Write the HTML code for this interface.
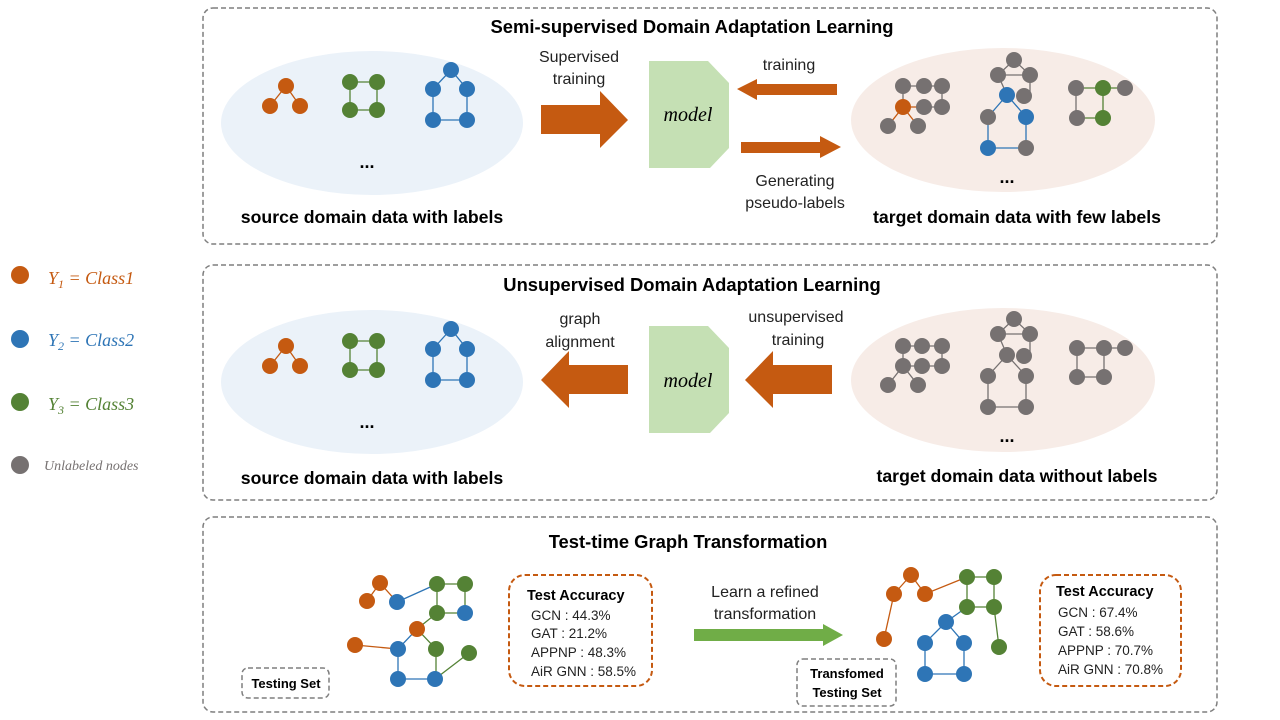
<!DOCTYPE html>
<html><head><meta charset="utf-8"><style>
html,body{margin:0;padding:0;background:#fff;}
svg{display:block;font-family:"Liberation Sans",sans-serif;}
.t{font-weight:bold;font-size:18.4px;text-anchor:middle;fill:#000;}
.c{font-weight:bold;font-size:17.7px;text-anchor:middle;fill:#000;}
.l{font-size:16px;text-anchor:middle;fill:#222;}
.s{font-size:13.5px;fill:#222;}
.m{font-family:"Liberation Serif",serif;font-style:italic;font-size:20px;text-anchor:middle;}
.o circle{fill:#C55A11}.b circle{fill:#2E75B6}.g circle{fill:#548235}.y circle{fill:#767171}
</style></head><body>
<svg width="1280" height="720" viewBox="0 0 1280 720">
<g fill="none" stroke="#7f7f7f" stroke-width="1.5" stroke-dasharray="5,3">
<rect x="203" y="8" width="1014" height="236" rx="10"/>
<rect x="203" y="265" width="1014" height="235" rx="10"/>
<rect x="203" y="517" width="1014" height="195" rx="10"/>
<rect x="242" y="668" width="87" height="30" rx="6"/>
<rect x="797" y="659" width="99" height="47" rx="6"/>
</g>
<g fill="none" stroke="#C55A11" stroke-width="2" stroke-dasharray="5,3">
<rect x="509" y="575" width="143" height="111" rx="16"/>
<rect x="1040" y="575" width="141" height="111" rx="16"/>
</g>
<text class="t" x="692" y="33">Semi-supervised  Domain  Adaptation  Learning</text>
<text class="t" x="692" y="291">Unsupervised  Domain  Adaptation  Learning</text>
<text class="t" x="688" y="548">Test-time  Graph  Transformation</text>

<ellipse cx="372" cy="123" rx="151" ry="72" fill="#EBF2F9"/>
<ellipse cx="1003" cy="120" rx="152" ry="72" fill="#F7ECE7"/>
<ellipse cx="372" cy="382" rx="151" ry="72" fill="#EBF2F9"/>
<ellipse cx="1003" cy="380" rx="152" ry="72" fill="#F7ECE7"/>

<text class="c" x="372" y="223">source domain data with labels</text>
<text class="c" x="1017" y="223">target domain data with few labels</text>
<text class="c" x="372" y="484">source domain data with labels</text>
<text class="c" x="1017" y="482">target domain data without labels</text>

<polygon points="649,61 708,61 729,83 729,148 710,168 649,168" fill="#C5E0B4"/>
<polygon points="649,326 708,326 729,348 729,413 710,433 649,433" fill="#C5E0B4"/>
<text class="m" x="688" y="121">model</text>
<text class="m" x="688" y="387">model</text>

<g fill="#C55A11">
<polygon points="541,105 600,105 600,91 628,120 600,148 600,134 541,134"/>
<polygon points="837,84 757,84 757,79 737,89 757,100 757,95 837,95"/>
<polygon points="741,142 820,142 820,136 841,147 820,158 820,153 741,153"/>
<polygon points="832,365 773,365 773,351 745,380 773,408 773,394 832,394"/>
<polygon points="628,365 569,365 569,351 541,380 569,408 569,394 628,394"/>
</g>
<polygon points="694,629 823,629 823,624 843,635 823,646 823,641 694,641" fill="#70AD47"/>

<text class="l" x="579" y="62">Supervised</text>
<text class="l" x="579" y="84">training</text>
<text class="l" x="789" y="70">training</text>
<text class="l" x="795" y="186">Generating</text>
<text class="l" x="795" y="208">pseudo-labels</text>
<text class="l" x="580" y="324">graph</text>
<text class="l" x="580" y="347">alignment</text>
<text class="l" x="796" y="322">unsupervised</text>
<text class="l" x="798" y="345">training</text>
<text class="l" x="765" y="597">Learn a refined</text>
<text class="l" x="765" y="619">transformation</text>

<g font-weight="bold" font-size="18" text-anchor="middle"><text x="367" y="168">...</text><text x="1007" y="183">...</text><text x="367" y="428">...</text><text x="1007" y="442">...</text></g>

<g stroke-width="1.3" fill="none">
<path stroke="#C55A11" d="M286,86L270,106M286,86L300,106"/>
<path stroke="#548235" d="M350,82H377V110H350Z"/>
<path stroke="#2E75B6" d="M451,70L433,89L433,120H467V89Z"/>
<path stroke="#C55A11" d="M286,346L270,366M286,346L300,366"/>
<path stroke="#548235" d="M350,341H377V370H350Z"/>
<path stroke="#2E75B6" d="M451,329L433,349L433,380H467V349Z"/>
<path stroke="#767171" d="M903,86H942V107H924M903,86V107"/>
<path stroke="#C55A11" d="M903,107L888,126M903,107L918,126M903,107H924"/>
<path stroke="#767171" d="M1014,60L998,75L1007,95M1014,60L1030,75L1030,96M998,75H1030"/>
<path stroke="#2E75B6" d="M1007,95L988,117V148H1026V117L1007,95"/>
<path stroke="#767171" d="M1076,88V118"/>
<path stroke="#548235" d="M1076,88H1125M1103,88V118H1077"/>
<path stroke="#767171" d="M903,346H942V366H903V346M903,366L888,385M903,366L918,385M1014,319L998,334L1007,355M1014,319L1030,334L1030,356M998,334H1030M1007,355L988,376V407H1026V376L1007,355M1077,348H1125M1077,348V377H1104V348"/>
<path stroke="#C55A11" d="M380,583L367,601M380,583L397,602M355,645L398,649"/>
<path stroke="#2E75B6" d="M397,602L437,584M398,649V679H435M417,629L398,649"/>
<path stroke="#548235" d="M437,584H465V613H437V584M437,613L417,629M417,629L436,649V679M435,679L469,653"/>
<path stroke="#C55A11" d="M911,575L894,594L884,639M911,575L925,594L967,577"/>
<path stroke="#548235" d="M967,577H994V607H967V577M994,607L999,647"/>
<path stroke="#2E75B6" d="M967,607L946,622L925,643V674H964V643L946,622"/>
</g>

<g class="o"><circle cx="286" cy="86" r="8"/><circle cx="270" cy="106" r="8"/><circle cx="300" cy="106" r="8"/>
<circle cx="286" cy="346" r="8"/><circle cx="270" cy="366" r="8"/><circle cx="300" cy="366" r="8"/>
<circle cx="903" cy="107" r="8"/>
<circle cx="380" cy="583" r="8"/><circle cx="367" cy="601" r="8"/><circle cx="417" cy="629" r="8"/><circle cx="355" cy="645" r="8"/>
<circle cx="911" cy="575" r="8"/><circle cx="894" cy="594" r="8"/><circle cx="925" cy="594" r="8"/><circle cx="884" cy="639" r="8"/>
<circle cx="20" cy="275" r="9"/></g>
<g class="g"><circle cx="350" cy="82" r="8"/><circle cx="377" cy="82" r="8"/><circle cx="350" cy="110" r="8"/><circle cx="377" cy="110" r="8"/>
<circle cx="350" cy="341" r="8"/><circle cx="377" cy="341" r="8"/><circle cx="350" cy="370" r="8"/><circle cx="377" cy="370" r="8"/>
<circle cx="1103" cy="88" r="8"/><circle cx="1103" cy="118" r="8"/>
<circle cx="437" cy="584" r="8"/><circle cx="465" cy="584" r="8"/><circle cx="437" cy="613" r="8"/><circle cx="436" cy="649" r="8"/><circle cx="469" cy="653" r="8"/>
<circle cx="967" cy="577" r="8"/><circle cx="994" cy="577" r="8"/><circle cx="967" cy="607" r="8"/><circle cx="994" cy="607" r="8"/><circle cx="999" cy="647" r="8"/>
<circle cx="20" cy="402" r="9"/></g>
<g class="b"><circle cx="451" cy="70" r="8"/><circle cx="433" cy="89" r="8"/><circle cx="467" cy="89" r="8"/><circle cx="433" cy="120" r="8"/><circle cx="467" cy="120" r="8"/>
<circle cx="451" cy="329" r="8"/><circle cx="433" cy="349" r="8"/><circle cx="467" cy="349" r="8"/><circle cx="433" cy="380" r="8"/><circle cx="467" cy="380" r="8"/>
<circle cx="1007" cy="95" r="8"/><circle cx="1026" cy="117" r="8"/><circle cx="988" cy="148" r="8"/>
<circle cx="397" cy="602" r="8"/><circle cx="465" cy="613" r="8"/><circle cx="398" cy="649" r="8"/><circle cx="398" cy="679" r="8"/><circle cx="435" cy="679" r="8"/>
<circle cx="946" cy="622" r="8"/><circle cx="925" cy="643" r="8"/><circle cx="964" cy="643" r="8"/><circle cx="925" cy="674" r="8"/><circle cx="964" cy="674" r="8"/>
<circle cx="20" cy="339" r="9"/></g>
<g class="y"><circle cx="903" cy="86" r="8"/><circle cx="924" cy="86" r="8"/><circle cx="942" cy="86" r="8"/><circle cx="924" cy="107" r="8"/><circle cx="942" cy="107" r="8"/><circle cx="888" cy="126" r="8"/><circle cx="918" cy="126" r="8"/>
<circle cx="1014" cy="60" r="8"/><circle cx="998" cy="75" r="8"/><circle cx="1030" cy="75" r="8"/><circle cx="1024" cy="96" r="8"/><circle cx="988" cy="117" r="8"/><circle cx="1026" cy="148" r="8"/>
<circle cx="1076" cy="88" r="8"/><circle cx="1125" cy="88" r="8"/><circle cx="1077" cy="118" r="8"/>
<circle cx="903" cy="346" r="8"/><circle cx="922" cy="346" r="8"/><circle cx="942" cy="346" r="8"/><circle cx="903" cy="366" r="8"/><circle cx="922" cy="366" r="8"/><circle cx="942" cy="366" r="8"/><circle cx="888" cy="385" r="8"/><circle cx="918" cy="385" r="8"/>
<circle cx="1014" cy="319" r="8"/><circle cx="998" cy="334" r="8"/><circle cx="1030" cy="334" r="8"/><circle cx="1007" cy="355" r="8"/><circle cx="1024" cy="356" r="8"/><circle cx="988" cy="376" r="8"/><circle cx="1026" cy="376" r="8"/><circle cx="988" cy="407" r="8"/><circle cx="1026" cy="407" r="8"/>
<circle cx="1077" cy="348" r="8"/><circle cx="1104" cy="348" r="8"/><circle cx="1125" cy="348" r="8"/><circle cx="1077" cy="377" r="8"/><circle cx="1104" cy="377" r="8"/>
<circle cx="20" cy="465" r="9"/></g>

<g font-family="Liberation Serif,serif" font-style="italic" font-size="18">
<text x="48" y="284" fill="#C55A11">Y<tspan font-size="12" dy="4">1</tspan><tspan dy="-4"> = Class1</tspan></text>
<text x="48" y="346" fill="#2E75B6">Y<tspan font-size="12" dy="4">2</tspan><tspan dy="-4"> = Class2</tspan></text>
<text x="48" y="410" fill="#548235">Y<tspan font-size="12" dy="4">3</tspan><tspan dy="-4"> = Class3</tspan></text>
<text x="44" y="470" fill="#767171" font-size="14">Unlabeled nodes</text>
</g>

<text x="527" y="600" font-weight="bold" font-size="14.5">Test Accuracy</text>
<text class="s" x="531" y="620">GCN : 44.3%</text>
<text class="s" x="531" y="638">GAT : 21.2%</text>
<text class="s" x="531" y="657">APPNP : 48.3%</text>
<text class="s" x="531" y="676">AiR GNN : 58.5%</text>
<text x="1056" y="596" font-weight="bold" font-size="14.5">Test Accuracy</text>
<text class="s" x="1058" y="617">GCN : 67.4%</text>
<text class="s" x="1058" y="636">GAT : 58.6%</text>
<text class="s" x="1058" y="655">APPNP : 70.7%</text>
<text class="s" x="1058" y="674">AiR GNN : 70.8%</text>

<text x="286" y="688" font-weight="bold" font-size="13" text-anchor="middle">Testing  Set</text>
<text x="847" y="678" font-weight="bold" font-size="13" text-anchor="middle">Transfomed</text>
<text x="847" y="697" font-weight="bold" font-size="13" text-anchor="middle">Testing  Set</text>
</svg>
</body></html>
